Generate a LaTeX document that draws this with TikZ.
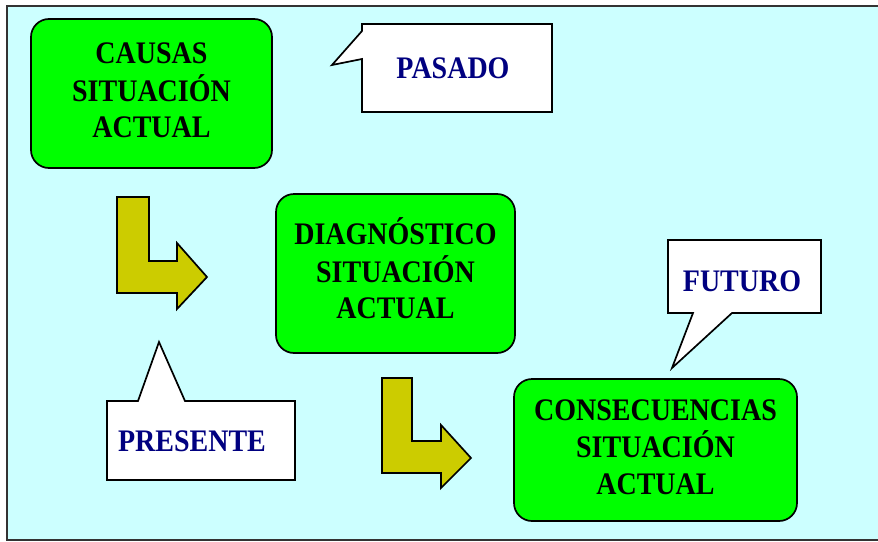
\documentclass[tikz,border=0pt]{standalone}
\usepackage{fontspec}
\usepackage{graphicx}
\setmainfont{Liberation Serif}
\definecolor{bgcyan}{HTML}{CCFFFF}
\definecolor{boxgreen}{HTML}{00FF00}
\definecolor{arrolive}{HTML}{CCCC00}
\definecolor{lblnavy}{HTML}{000080}
\newcommand{\tallstack}[1]{\scalebox{1}[1.12]{\begin{tabular}{@{}c@{}}#1\end{tabular}}}
\begin{document}
\begin{tikzpicture}[x=1pt,y=-1pt,
 greenbox/.style={draw=black, line width=1.7pt, fill=boxgreen, rounded corners=18pt, align=center,
   font=\fontsize{28}{32.5}\selectfont\bfseries, text=black, inner sep=0pt},
 callout/.style={draw=black, line width=1.7pt, fill=white, line join=miter},
 lbl/.style={font=\fontsize{28}{32}\selectfont\bfseries, text=lblnavy, inner sep=0pt},
 larrow/.style={draw=black, line width=1.7pt, fill=arrolive, line join=miter}
]
\useasboundingbox (0,0) rectangle (878,541);
% frame
\fill[bgcyan] (7,6) rectangle (885,540);
\draw[line width=1.8pt, black!80] (885,6) -- (7,6) -- (7,540) -- (885,540);

% green boxes
\node[greenbox, minimum width=241pt, minimum height=149pt] (causas) at (151.5,93.5)
  {\tallstack{CAUSAS\\SITUACIÓN\\ACTUAL}};
\node[greenbox, minimum width=239pt, minimum height=159pt] (diag) at (395.5,273.5)
  {\tallstack{DIAGNÓSTICO\\SITUACIÓN\\ACTUAL}};
\node[greenbox, minimum width=283pt, minimum height=142pt] (conse) at (655.5,450)
  {\tallstack{CONSECUENCIAS\\SITUACIÓN\\ACTUAL}};

% callouts
\draw[callout] (362,24) -- (552,24) -- (552,112) -- (362,112) -- (362,59) -- (332,65) -- (362,31) -- cycle;
\node[lbl] (pasado) at (453,68) {\scalebox{1}[1.12]{PASADO}};

\draw[callout] (668,240) -- (821,240) -- (821,313) -- (732,313) -- (672,368) -- (693,313) -- (668,313) -- cycle;
\node[lbl] (futuro) at (742,281) {\scalebox{1}[1.12]{FUTURO}};

\draw[callout] (107,401) -- (138,401) -- (159,342) -- (185,401) -- (295,401) -- (295,480) -- (107,480) -- cycle;
\node[lbl] (presente) at (192,441) {\scalebox{1}[1.12]{PRESENTE}};

% L arrows
\draw[larrow] (117,197) -- (149,197) -- (149,261) -- (177,261) -- (177,243) -- (207,277) -- (177,309) -- (177,293) -- (117,293) -- cycle;
\draw[larrow] (382,378) -- (412,378) -- (412,441) -- (441,441) -- (441,425) -- (471,458) -- (441,488) -- (441,473) -- (382,473) -- cycle;
\end{tikzpicture}
\end{document}
